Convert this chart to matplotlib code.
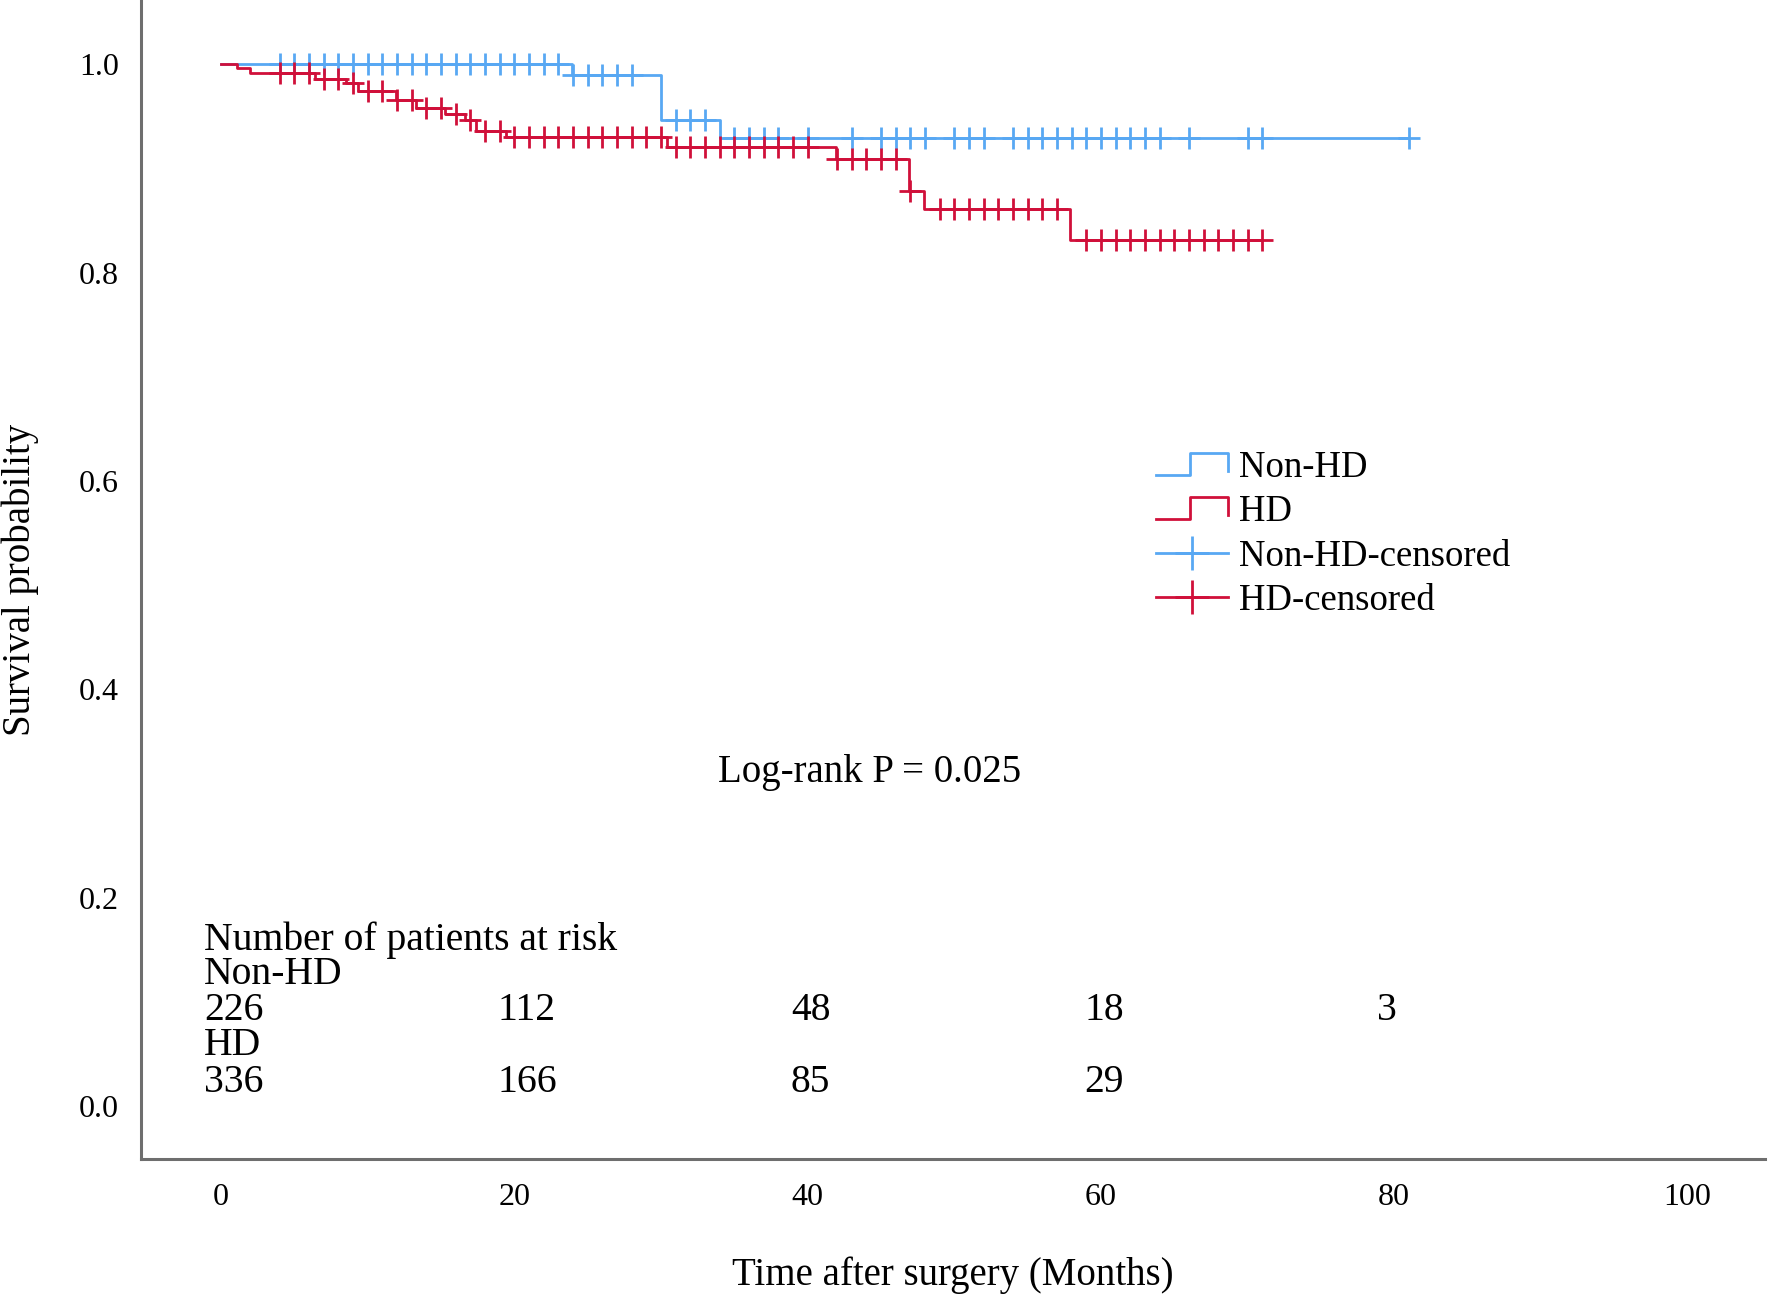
import matplotlib
matplotlib.use("Agg")
import matplotlib.pyplot as plt
from matplotlib.lines import Line2D
from matplotlib.legend_handler import HandlerBase

plt.rcParams['font.family'] = ['Liberation Serif', 'DejaVu Serif']

# Non-HD group: event times (months) and survival after each event
nonhd_event_t = [0, 23.9, 30.0, 34.0]
nonhd_surv = [1.0, 0.990, 0.946, 0.929]
nonhd_last_t = 81
nonhd_censor_t = (list(range(4, 29)) + [31, 32, 33, 35, 36, 37, 38, 40, 43, 45, 46, 47, 48,
                                        50, 51, 52] + list(range(54, 65)) + [66, 70, 71, 81])

# HD group
hd_event_t = [0, 1.1, 2.0, 6.4, 8.5, 9.3, 11.9, 13.3, 15.3, 16.6, 17.4, 19.4,
              30.4, 41.9, 46.9, 47.9, 57.9]
hd_surv = [1.0, 0.996, 0.992, 0.9855, 0.982, 0.974, 0.966, 0.958, 0.952, 0.946, 0.936, 0.930,
           0.921, 0.909, 0.878, 0.861, 0.831]
hd_last_t = 71
hd_censor_t = list(range(4, 41)) + list(range(42, 48)) + list(range(49, 58)) + list(range(59, 72))

# numbers at risk
risk_times = [0, 20, 40, 60, 80]
risk_nonhd = ['226', '112', '48', '18', '3']
risk_hd = ['336', '166', '85', '29', '']

blue = '#58a8f3'
red = '#d0103a'


def surv_at(times, surv, t):
    s = surv[0]
    for et, sv in zip(times, surv):
        if et <= t:
            s = sv
    return s


class StepIcon(HandlerBase):
    def create_artists(self, legend, orig_handle, xdescent, ydescent,
                       width, height, fontsize, trans):
        x0, y0 = -xdescent, -ydescent
        xs = [x0, x0 + 0.47 * width, x0 + 0.47 * width, x0 + width, x0 + width]
        ys = [y0 + 0.1 * height, y0 + 0.1 * height, y0 + 0.95 * height,
              y0 + 0.95 * height, y0 + 0.25 * height]
        ln = Line2D(xs, ys, color=orig_handle.get_color(),
                    lw=orig_handle.get_linewidth(), transform=trans)
        return [ln]


fig = plt.figure(figsize=(17.68, 12.94), dpi=100)
ax = fig.add_axes([0.0798, 0.1043, 0.9186, 0.8957])

for ev, sv, last, cens, col in [(nonhd_event_t, nonhd_surv, nonhd_last_t, nonhd_censor_t, blue),
                                (hd_event_t, hd_surv, hd_last_t, hd_censor_t, red)]:
    ax.step(list(ev) + [last], list(sv) + [sv[-1]], where='post', color=col, lw=2.0)
    ax.plot(cens, [surv_at(ev, sv, t) for t in cens], '+', color=col, ms=16, mew=2.0)

ax.set_xlim(-5.46, 105.3)
ax.set_ylim(-0.0507, 1.0616)
ax.set_xticks([0, 20, 40, 60, 80, 100])
ax.set_yticks([0.0, 0.2, 0.4, 0.6, 0.8, 1.0])
ax.set_yticklabels(['0.0', '0.2', '0.4', '0.6', '0.8', '1.0'])
ax.tick_params(axis='y', length=0, pad=16, labelsize=23)
ax.tick_params(axis='x', length=0, pad=17.5, labelsize=23)
for s in ['top', 'right']:
    ax.spines[s].set_visible(False)
for s in ['left', 'bottom']:
    ax.spines[s].set_color('#6e6e6e')
    ax.spines[s].set_linewidth(2.2)

ax.set_xlabel('Time after surgery (Months)', fontsize=28, labelpad=32)
ax.set_ylabel('Survival probability', fontsize=28)
ax.yaxis.set_label_coords(-0.063, 0.5)

ax.text(44.2, 0.320, 'Log-rank P = 0.025', fontsize=28, ha='center', va='center')

tx = -1.15
ax.text(tx, 0.159, 'Number of patients at risk', fontsize=28.5, va='center')
ax.text(tx, 0.126, 'Non-HD', fontsize=28.5, va='center')
ax.text(tx, 0.058, 'HD', fontsize=28.5, va='center')
for t, a, b in zip(risk_times, risk_nonhd, risk_hd):
    ax.text(t + tx, 0.092, a, fontsize=28.5, va='center')
    ax.text(t + tx, 0.023, b, fontsize=28.5, va='center')

h_nonhd = Line2D([], [], color=blue, lw=2.0)
h_hd = Line2D([], [], color=red, lw=2.0)
h_nonhd_c = Line2D([], [], color=blue, lw=2.0, marker='+', ms=25, mew=2.0)
h_hd_c = Line2D([], [], color=red, lw=2.0, marker='+', ms=25, mew=2.0)
ax.legend([h_nonhd, h_hd, h_nonhd_c, h_hd_c],
          ['Non-HD', 'HD', 'Non-HD-censored', 'HD-censored'],
          handler_map={h_nonhd: StepIcon(), h_hd: StepIcon()},
          loc='upper left', bbox_to_anchor=(0.625, 0.611), frameon=False,
          fontsize=26.5, numpoints=1, handlelength=1.95, handletextpad=0.3,
          labelspacing=0.26, borderpad=0, borderaxespad=0)

fig.savefig('out.png', dpi=100)
